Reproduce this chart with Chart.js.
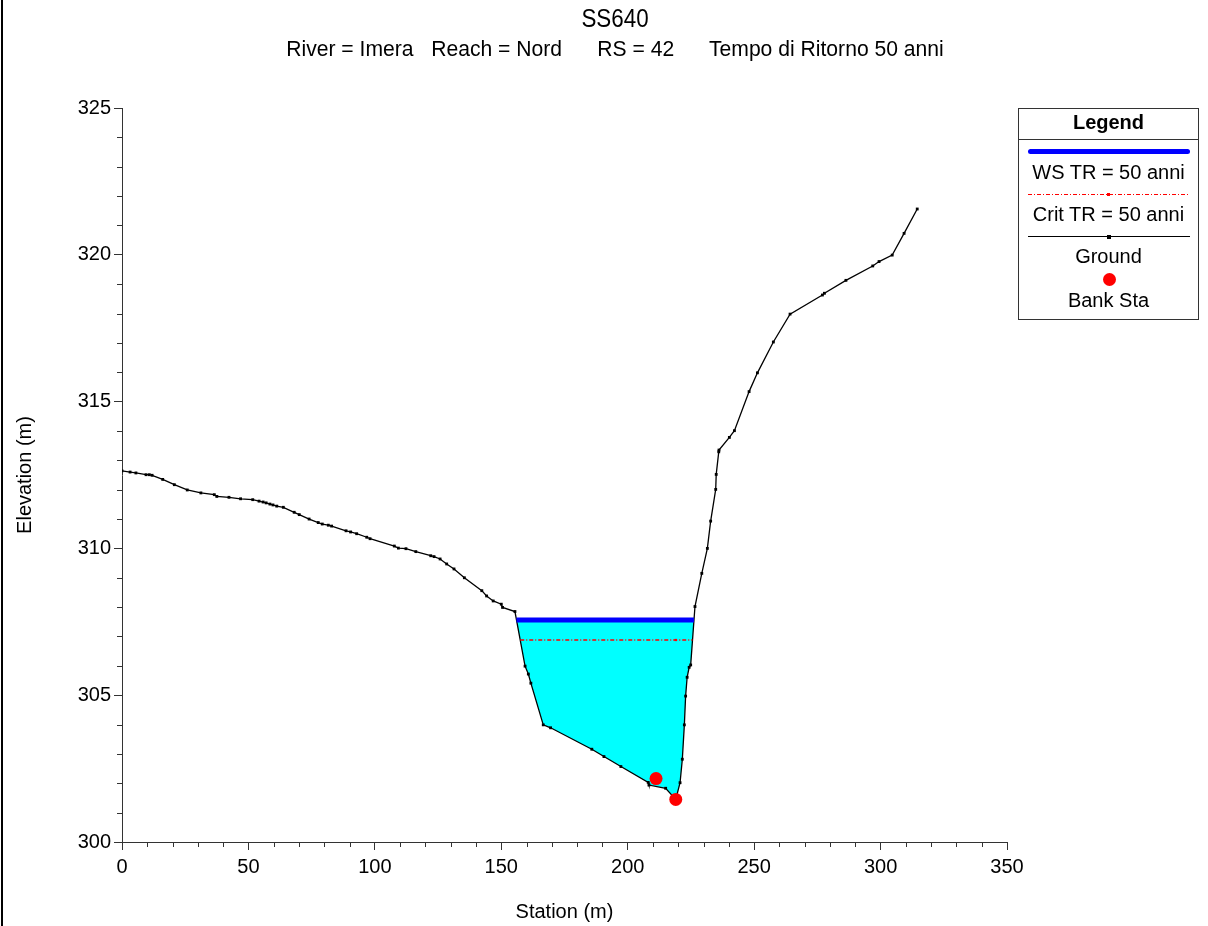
<!DOCTYPE html>
<html>
<head>
<meta charset="utf-8">
<script src="https://cdn.jsdelivr.net/npm/chart.js@4.4.1/dist/chart.umd.min.js"></script>
<style>
  body { margin: 0; background: #fff; font-family: "Liberation Sans", Arial, sans-serif; }
  #wrap { position: relative; width: 1208px; height: 926px; overflow: hidden; }
  #chart { position: absolute; left: 0; top: 0; }
  #frame { position: absolute; left: 1px; top: 0; width: 2px; height: 926px; background: #000; }
  .ttl { position: absolute; white-space: pre; color: #000; transform-origin: center center; }
  #title { left: 615px; top: 18px; font-size: 26px; transform: translate(-50%, -50%) scaleX(0.86); }
  #subtitle { left: 615px; top: 49px; font-size: 22px; transform: translate(-50%, -50%) scaleX(0.96); }
  #legend { position: absolute; left: 1018px; top: 108px; width: 181px; height: 212px; border: 1px solid #333; box-sizing: border-box; }
  #legend .head { position: absolute; left: 0; right: 0; top: 0; height: 30px; border-bottom: 1px solid #333; text-align: center; font-weight: bold; font-size: 20px; line-height: 27px; }
  #legend .lbl { position: absolute; left: 0; right: 0; text-align: center; font-size: 20px; line-height: 22px; transform: translateY(-50%); }
  #legend .ln { position: absolute; left: 9px; right: 8px; }
</style>
</head>
<body>
<div id="wrap">
  <canvas id="chart" width="1208" height="926"></canvas>
  <div id="frame"></div>
  <div id="title" class="ttl">SS640</div>
  <div id="subtitle" class="ttl">River = Imera   Reach = Nord      RS = 42      Tempo di Ritorno 50 anni</div>
  <div id="legend">
    <div class="head">Legend</div>
    <div class="ln" style="top:40px;height:5px;background:#0000ff;border-radius:3px;"></div>
    <div class="lbl" style="top:63px;">WS TR = 50 anni</div>
    <div class="ln" style="top:85px;height:1px;background:repeating-linear-gradient(to right,#ff0000 0 4px,transparent 4px 6px,#ff0000 6px 7px,transparent 7px 9px);"></div>
    <div style="position:absolute;left:88px;top:84px;width:3px;height:3px;background:#ff0000;"></div>
    <div class="lbl" style="top:105px;">Crit TR = 50 anni</div>
    <div class="ln" style="top:127px;height:1px;background:#000;"></div>
    <div style="position:absolute;left:88px;top:126px;width:4px;height:4px;background:#000;"></div>
    <div class="lbl" style="top:147px;">Ground</div>
    <div style="position:absolute;left:84px;top:164px;width:13px;height:13px;border-radius:50%;background:#ff0000;"></div>
    <div class="lbl" style="top:191px;">Bank Sta</div>
  </div>
</div>
<script>
// ground profile
const groundStation = [
  0, 3.2, 5.5, 9.5, 10.8, 11.9, 16.1, 20.7, 25.8, 31.2, 36.5, 37.5, 42.3, 46.9, 51.7,
  54.2, 55.8, 57.0, 58.5, 59.7, 61.2, 63.8, 68.1, 70.1, 74.0, 77.6, 79.2, 81.6, 82.9,
  88.6, 90.4, 92.8, 96.8, 98.1, 107.7, 109.3, 112.3, 116.2, 122.1, 123.4, 125.8, 128.4,
  131.3, 135.4, 142.3, 144.2, 146.8, 150.0, 150.5, 155.4,
  159.4, 160.7, 161.7, 166.6, 169.5, 185.8, 190.6, 197.3, 208.1, 208.4, 215.0, 219.0,
  220.7, 221.6, 222.4, 222.9, 223.5, 224.3, 224.9,
  226.6, 229.3, 231.5, 232.8, 234.8, 235.0, 236.0, 236.1, 240.2, 242.2, 248.0, 251.3,
  257.6, 264.2, 277.0, 277.8, 286.3, 296.9, 299.4, 304.6, 309.3, 314.5
];
const groundElev = [
  312.64, 312.60, 312.57, 312.51, 312.51, 312.49, 312.35, 312.17, 311.99, 311.89, 311.83, 311.77, 311.74, 311.69, 311.66,
  311.61, 311.58, 311.55, 311.51, 311.48, 311.44, 311.40, 311.23, 311.15, 311.00, 310.88, 310.83, 310.79, 310.76,
  310.60, 310.56, 310.50, 310.38, 310.33, 310.08, 310.01, 309.99, 309.89, 309.75, 309.72, 309.64, 309.47,
  309.30, 309.00, 308.56, 308.38, 308.21, 308.10, 307.99, 307.85,
  305.99, 305.72, 305.41, 303.99, 303.89, 303.16, 302.91, 302.57, 302.03, 301.94, 301.83, 301.45,
  302.02, 302.82, 303.99, 304.97, 305.61, 305.95, 306.03,
  308.02, 309.15, 310.00, 310.93, 312.01, 312.52, 313.29, 313.35, 313.78, 314.01, 315.34, 315.98,
  317.03, 317.98, 318.63, 318.69, 319.13, 319.62, 319.77, 319.99, 320.73, 321.56
];

// water surface and critical depth
const wsStation = [156.0, 226.2];
const wsElev = 307.56;
const critStation = [157.5, 219.0, 225.6];
const critElev = 306.88;

// bank stations
const bankStation = [211.2, 219.0];
const bankElev = [302.16, 301.45];

const xTicks = [0, 50, 100, 150, 200, 250, 300, 350];
const yTicks = [300, 305, 310, 315, 320, 325];

const ground = groundStation.map((s, i) => ({x: s, y: groundElev[i]}));
const water = [{x: wsStation[0], y: wsElev}]
  .concat(ground.filter(p => p.x > wsStation[0] && p.x < wsStation[1]))
  .concat([{x: wsStation[1], y: wsElev}]);

// small ticks between the labelled ones
const minorTicks = {
  id: 'minorTicks',
  afterDraw(chart) {
    const ctx = chart.ctx;
    const xs = chart.scales.x, ys = chart.scales.y;
    ctx.save();
    ctx.strokeStyle = '#333';
    ctx.lineWidth = 1;
    ctx.beginPath();
    for (let v = 0; v <= 350; v += 10) {
      if (v % 50 === 0) continue;
      const px = Math.round(xs.getPixelForValue(v)) + 0.5;
      ctx.moveTo(px, ys.bottom);
      ctx.lineTo(px, ys.bottom + 5);
    }
    for (let v = 300; v <= 325; v += 1) {
      if (v % 5 === 0) continue;
      const py = Math.round(ys.getPixelForValue(v)) + 0.5;
      ctx.moveTo(xs.left, py);
      ctx.lineTo(xs.left - 5, py);
    }
    ctx.stroke();
    ctx.restore();
  }
};

const font = {family: '"Liberation Sans", Arial, sans-serif', size: 20};

new Chart(document.getElementById('chart'), {
  type: 'scatter',
  data: {
    datasets: [
      {
        label: 'water',
        data: water,
        showLine: true,
        borderWidth: 0,
        pointRadius: 0,
        backgroundColor: '#00ffff',
        fill: {value: wsElev},
        order: 5
      },
      {
        label: 'Ground',
        data: ground,
        showLine: true,
        borderColor: '#000',
        borderWidth: 1.3,
        pointStyle: 'rect',
        pointRadius: 2,
        pointBackgroundColor: '#000',
        pointBorderWidth: 0,
        order: 3
      },
      {
        label: 'Crit TR = 50 anni',
        data: critStation.map(s => ({x: s, y: critElev})),
        showLine: true,
        borderColor: '#ff0000',
        borderWidth: 1.4,
        borderDash: [4, 2, 1, 2],
        pointStyle: 'rect',
        pointRadius: [0, 1.6, 0],
        pointBackgroundColor: '#ff0000',
        pointBorderWidth: 0,
        order: 2
      },
      {
        label: 'WS TR = 50 anni',
        data: wsStation.map(s => ({x: s, y: wsElev})),
        showLine: true,
        borderColor: '#0000ff',
        borderWidth: 5,
        pointRadius: 0,
        order: 1
      },
      {
        label: 'Bank Sta',
        data: bankStation.map((s, i) => ({x: s, y: bankElev[i]})),
        showLine: false,
        pointRadius: 6.5,
        pointBackgroundColor: '#ff0000',
        pointBorderWidth: 0,
        order: 0
      }
    ]
  },
  options: {
    responsive: false,
    animation: false,
    devicePixelRatio: 1,
    layout: {padding: {left: 0, right: 201, top: 108, bottom: 0}},
    plugins: {
      legend: {display: false},
      tooltip: {enabled: false},
      title: {display: false}
    },
    scales: {
      x: {
        type: 'linear',
        min: 0,
        max: 350,
        afterBuildTicks: s => { s.ticks = xTicks.map(v => ({value: v})); },
        afterFit: s => { s.height = 84; },
        ticks: {color: '#000', font: font, padding: 5, maxRotation: 0},
        grid: {drawOnChartArea: false, tickLength: 8, color: '#333'},
        border: {color: '#333'},
        title: {display: true, text: 'Station (m)', color: '#000', font: font, padding: {top: 0, bottom: 2}}
      },
      y: {
        min: 300,
        max: 325,
        afterBuildTicks: s => { s.ticks = yTicks.map(v => ({value: v})); },
        afterFit: s => { s.width = 122; },
        ticks: {color: '#000', font: font, padding: 3},
        grid: {drawOnChartArea: false, tickLength: 8, color: '#333'},
        border: {color: '#333'},
        title: {display: true, text: 'Elevation (m)', color: '#000', font: font, padding: {top: 13, bottom: 0}}
      }
    }
  },
  plugins: [minorTicks]
});
</script>
</body>
</html>
